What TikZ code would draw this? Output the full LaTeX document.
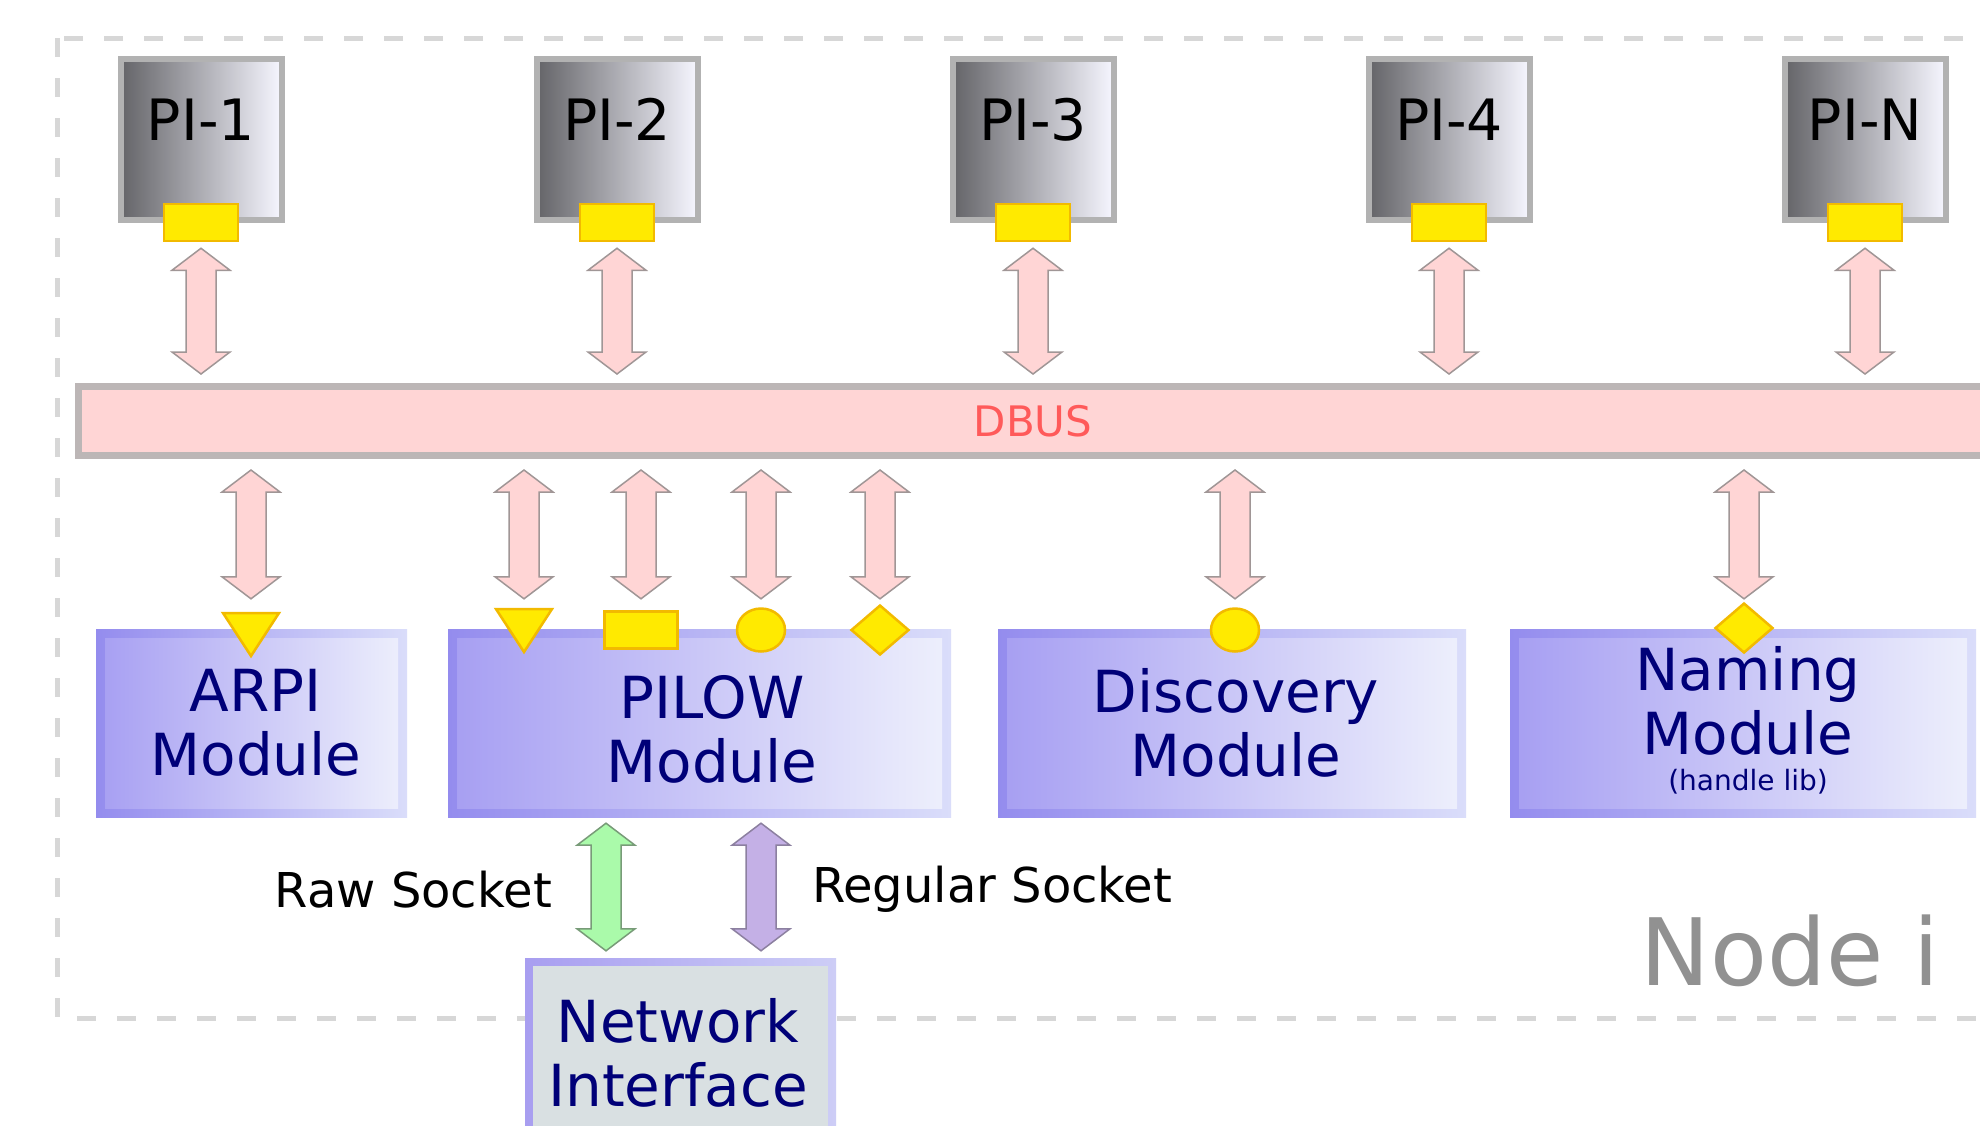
\documentclass[tikz,border=0pt]{standalone}
\usepackage{fontspec}
\setmainfont{DejaVu Sans}
\usetikzlibrary{shapes.geometric,calc}

\definecolor{pidark}{RGB}{100,100,104}
\definecolor{pilight}{RGB}{246,246,255}
\definecolor{pigray}{RGB}{178,178,178}
\definecolor{modout1}{RGB}{148,140,238}
\definecolor{modout2}{RGB}{218,221,250}
\definecolor{modin1}{RGB}{166,158,242}
\definecolor{modin2}{RGB}{238,240,252}
\definecolor{niout1}{RGB}{168,158,240}
\definecolor{niout2}{RGB}{205,205,246}
\definecolor{niin}{RGB}{217,224,226}
\definecolor{yellowf}{RGB}{255,234,0}
\definecolor{yellowd}{RGB}{242,186,0}
\definecolor{dbusline}{RGB}{188,182,182}
\definecolor{dbusfill}{RGB}{255,213,213}
\definecolor{dbustext}{RGB}{255,90,90}
\definecolor{navytext}{RGB}{0,0,120}
\definecolor{dashgray}{RGB}{215,215,215}
\definecolor{nodegray}{RGB}{145,145,145}
\definecolor{arrline}{RGB}{160,150,150}
\definecolor{greenf}{RGB}{170,250,170}
\definecolor{greend}{RGB}{120,155,120}
\definecolor{purplef}{RGB}{196,176,230}
\definecolor{purpled}{RGB}{140,128,160}

\newcommand\dblarr[3]{%
  \draw[#1] let \p1=#2, \p2=#3 in
    (\x1,\y1) -- ({\x1+29pt},{\y1-22pt}) -- ({\x1+15pt},{\y1-22pt})
    -- ({\x1+15pt},{\y2+22pt}) -- ({\x1+29pt},{\y2+22pt}) -- (\x1,\y2)
    -- ({\x1-29pt},{\y2+22pt}) -- ({\x1-15pt},{\y2+22pt})
    -- ({\x1-15pt},{\y1-22pt}) -- ({\x1-29pt},{\y1-22pt}) -- cycle;}

\begin{document}
\begin{tikzpicture}[x=1pt,y=-1pt,
  pibox/.style={draw=pigray, line width=6pt, left color=pidark, right color=pilight,
    minimum width=161pt, minimum height=161pt, inner sep=0pt},
  pilbl/.style={font=\fontsize{57pt}{66pt}\selectfont, text=black, inner sep=0pt, anchor=base},
  picon/.style={draw=yellowd, line width=2.5pt, fill=yellowf, minimum width=74pt,
    minimum height=37pt, inner sep=0pt},
  modbox/.style={minimum height=188pt, inner sep=0pt, left color=modout1, right color=modout2,
    path picture={\shade[left color=modin1,right color=modin2]
      ([shift={(9pt,-9pt)}]path picture bounding box.north west) rectangle
      ([shift={(-9pt,9pt)}]path picture bounding box.south east);}},
  nibox/.style={minimum width=311pt, minimum height=190pt, inner sep=0pt,
    left color=niout1, right color=niout2,
    path picture={\fill[niin]
      ([shift={(8pt,-8pt)}]path picture bounding box.north west) rectangle
      ([shift={(-8pt,8pt)}]path picture bounding box.south east);}},
  modtxt/.style={text=navytext, align=center, font=\fontsize{58pt}{64pt}\selectfont, inner sep=0pt},
  ycon/.style={draw=yellowd, line width=2.5pt, fill=yellowf, inner sep=0pt},
  pinkarr/.style={fill=dbusfill, draw=arrline, line width=1.5pt, line join=miter},
  greenarr/.style={fill=greenf, draw=greend, line width=1.5pt},
  purplearr/.style={fill=purplef, draw=purpled, line width=1.5pt},
  socklbl/.style={font=\fontsize{48pt}{56pt}\selectfont, text=black, inner sep=0pt}
]
\useasboundingbox (0,0) rectangle (1980,1125);
\clip (0,0) rectangle (1980,1125);
\fill[white] (0,0) rectangle (1980,1125);

% node boundary
\draw[dashgray, line width=5pt, dash pattern=on 19pt off 21pt] (57,38) rectangle (2010,1018);
\node[text=nodegray, font=\fontsize{93pt}{104pt}\selectfont, inner sep=0pt, anchor=base] (nodei) at (1790,985) {Node i};

% PI boxes
\foreach \i/\lab/\x in {1/PI-1/201, 2/PI-2/617, 3/PI-3/1033, 4/PI-4/1449, 5/PI-N/1865} {
  \node[pibox] (pi\i) at (\x,139) {};
  \node[pilbl] (pil\i) at (\x,140) {\lab};
  \node[picon] (pic\i) at (pi\i.south) {};
}

% DBUS
\node[draw=dbusline, line width=7pt, fill=dbusfill, minimum width=1909pt, minimum height=69pt,
  inner sep=0pt, text=dbustext, font=\fontsize{42pt}{50pt}\selectfont] (dbus) at (1033,421) {DBUS};

% arrows PI <-> DBUS
\foreach \i in {1,...,5} {
  \dblarr{pinkarr}{($(pic\i.south)+(0,6)$)}{($(pic\i.south |- dbus.north)+(0,-9)$)}
}

% modules
\node[modbox, minimum width=311pt] (arpi) at (251.5,723) {};
\node[modbox, minimum width=503pt] (pilow) at (699.5,723) {};
\node[modbox, minimum width=468pt] (disc) at (1232,723) {};
\node[modbox, minimum width=466pt] (naming) at (1743,723) {};
\node[nibox] (ni) at (680.5,1053) {};

\node[modtxt] (arpit) at (256,723) {ARPI\\Module};
\node[modtxt] (pilowt) at (712,729) {PILOW\\Module};
\node[modtxt] (disct) at (1236,723) {Discovery\\Module};
\node[modtxt] (namt) at (1748,701) {Naming\\Module};
\node[text=navytext, font=\fontsize{28pt}{32pt}\selectfont, inner sep=0pt] (namh) at (1748,782) {(handle lib)};
\node[modtxt] (nit) at (678,1053) {Network\\Interface};

% yellow interface shapes
\coordinate (tri1) at (251,613);
\coordinate (tri2) at (524,609);
\node[ycon, minimum width=73pt, minimum height=37pt] (rect2) at (641,630) {};
\node[ycon, ellipse, minimum width=48pt, minimum height=43pt] (circ2) at (761,630) {};
\node[ycon, diamond, minimum width=58pt, minimum height=50pt] (dia2) at (880,630) {};
\node[ycon, ellipse, minimum width=48pt, minimum height=43pt] (circ3) at (1235,630) {};
\node[ycon, diamond, minimum width=58pt, minimum height=50pt] (dia4) at (1744,628) {};

% arrows DBUS <-> modules
\dblarr{pinkarr}{($(tri1 |- dbus.south)+(0,11)$)}{($(tri1 |- arpi.north)+(0,-30)$)}
\dblarr{pinkarr}{($(tri2 |- dbus.south)+(0,11)$)}{($(tri2 |- pilow.north)+(0,-30)$)}
\dblarr{pinkarr}{($(rect2.north |- dbus.south)+(0,11)$)}{($(rect2.north |- pilow.north)+(0,-30)$)}
\dblarr{pinkarr}{($(circ2.north |- dbus.south)+(0,11)$)}{($(circ2.north |- pilow.north)+(0,-30)$)}
\dblarr{pinkarr}{($(dia2.north |- dbus.south)+(0,11)$)}{($(dia2.north |- pilow.north)+(0,-30)$)}
\dblarr{pinkarr}{($(circ3.north |- dbus.south)+(0,11)$)}{($(circ3.north |- disc.north)+(0,-30)$)}
\dblarr{pinkarr}{($(dia4.north |- dbus.south)+(0,11)$)}{($(dia4.north |- naming.north)+(0,-30)$)}

\draw[ycon] ($(tri1)+(-28,0)$) -- ($(tri1)+(28,0)$) -- ($(tri1)+(0,43)$) -- cycle;
\draw[ycon] ($(tri2)+(-28,0)$) -- ($(tri2)+(28,0)$) -- ($(tri2)+(0,43)$) -- cycle;

% sockets
\coordinate (rawx) at (606,0);
\coordinate (regx) at (761,0);
\dblarr{greenarr}{($(rawx |- pilow.south)+(0,6)$)}{($(rawx |- ni.north)+(0,-7)$)}
\dblarr{purplearr}{($(regx |- pilow.south)+(0,6)$)}{($(regx |- ni.north)+(0,-7)$)}
\node[socklbl, anchor=base east] (rawl) at (552,907) {Raw Socket};
\node[socklbl, anchor=base west] (regl) at (812,902) {Regular Socket};
\end{tikzpicture}
\end{document}
